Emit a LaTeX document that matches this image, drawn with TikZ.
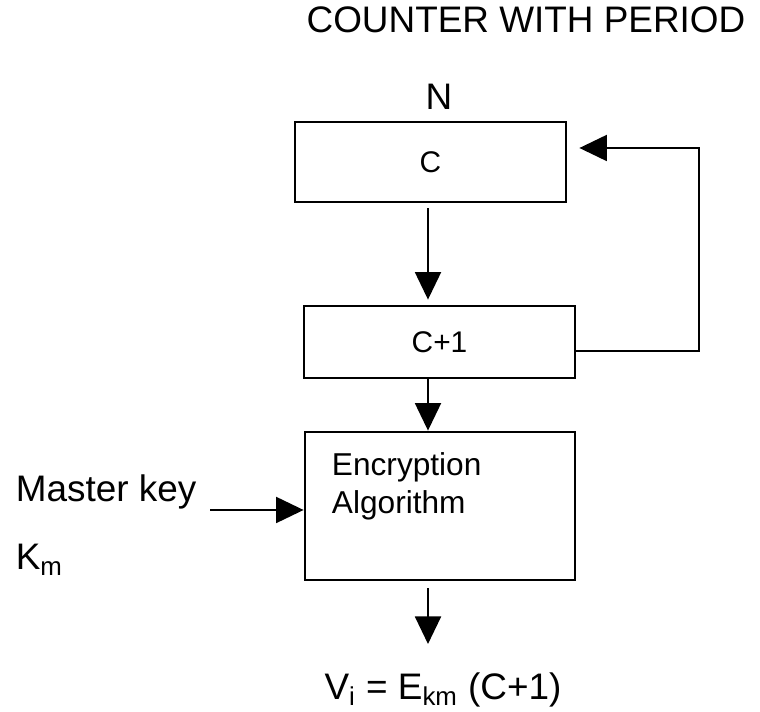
\documentclass[tikz,border=0pt]{standalone}
\usepackage{fontspec}
\setmainfont{Liberation Sans}
\usetikzlibrary{arrows.meta}

\begin{document}
\begin{tikzpicture}[>={Triangle[length=0.55cm,width=0.52cm]},line width=1.1pt]
  \useasboundingbox (0,0) rectangle (15.2,-14.24);
  \tikzset{blk/.style={draw,line width=1.6pt,minimum width=5.42cm,inner sep=0pt,
      font=\fontsize{17}{20}\selectfont},
    big/.style={font=\fontsize{21}{25}\selectfont}}
  % title and period
  \node[big] (title) at (10.52,-0.4) {COUNTER WITH PERIOD};
  \node[big] (n) at (8.78,-1.94) {N};
  % counter and increment
  \node[blk,minimum height=1.6cm] (cnt) at (8.61,-3.24) {C};
  \node[blk,minimum height=1.44cm] (inc) at (8.79,-6.84) {C+1};
  \draw[->] ([xshift=-0.05cm,yshift=-0.1cm]cnt.south) -- ([xshift=-0.05cm,yshift=0.1cm]cnt.south |- inc.north);
  % feedback to the counter
  \draw[->] ([yshift=-0.18cm]inc.east) -- ++(2.46,0) |- ([xshift=0.24cm,yshift=0.28cm]cnt.east);
  % encryption
  \node[blk,minimum width=5.4cm,minimum height=2.96cm] (enc) at (8.8,-10.12) {};
  \node[anchor=north west,inner sep=0pt,align=left,font=\fontsize{18}{21.5}\selectfont]
    (alg) at (6.62,-9.03) {Encryption\\Algorithm};
  \draw[->] ([xshift=-0.23cm]inc.south) -- ([xshift=-0.23cm]inc.south |- enc.north);
  % master key in
  \node[big,anchor=base west] (mkey) at (0.18,-10.04) {Master key};
  \node[big,anchor=base west] (km) at (0.18,-11.4) {K\textsubscript{m}};
  \coordinate (keyin) at (4.2,-10.2);
  \draw[->] (keyin) -- (keyin -| enc.west);
  % output
  \coordinate (out) at (8.56,-12.88);
  \node[big] (vout) at (8.86,-13.8) {V\textsubscript{i} = E\textsubscript{km} (C+1)};
  \draw[->] ([xshift=-0.24cm,yshift=-0.14cm]enc.south) -- (out);
\end{tikzpicture}
\end{document}
